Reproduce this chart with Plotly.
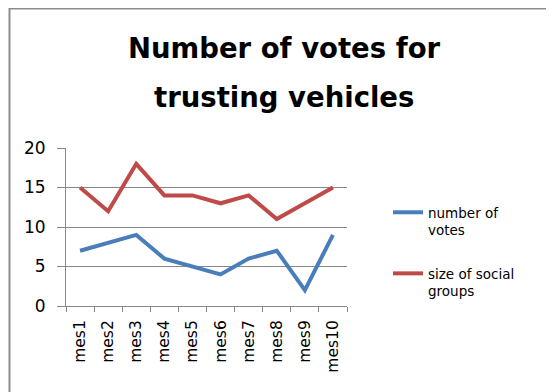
import plotly.graph_objects as go

categories = ["mes1", "mes2", "mes3", "mes4", "mes5", "mes6", "mes7", "mes8", "mes9", "mes10"]
votes = [7, 8, 9, 6, 5, 4, 6, 7, 2, 9]
social = [15, 12, 18, 14, 14, 13, 14, 11, 13, 15]
y_ticks = [0, 5, 10, 15, 20]
title_lines = ["Number of votes for", "trusting vehicles"]

FONT = "DejaVu Sans, sans-serif"

fig = go.Figure()
fig.add_trace(go.Scatter(x=categories, y=votes, mode="lines", name="number of<br>votes",
                         legendgroup="a", line=dict(color="#4a7ebb", width=4)))
fig.add_trace(go.Scatter(x=categories, y=social, mode="lines", name="size of social<br>groups",
                         legendgroup="b", line=dict(color="#be4b48", width=4)))

# page offset (browser body margin)
OFF = 8
W, H = 554, 392
L, R, T, B = 66 - OFF, 347 - OFF, 148 - OFF, 306 - OFF
pw, ph = R - L, B - T


def px(x):
    return (x - OFF - L) / pw


def py(y):
    return (B - (y - OFF)) / ph


annotations = [
    dict(text="<b>%s</b>" % title_lines[0], x=px(284), y=py(48), xref="paper", yref="paper",
         xanchor="center", yanchor="middle", showarrow=False,
         font=dict(size=27.5, family=FONT, color="#000000")),
    dict(text="<b>%s</b>" % title_lines[1], x=px(284), y=py(97), xref="paper", yref="paper",
         xanchor="center", yanchor="middle", showarrow=False,
         font=dict(size=27.5, family=FONT, color="#000000")),
]

fig.update_layout(
    width=W, height=H,
    margin=dict(l=L, r=W - R, t=T, b=H - B, pad=0, autoexpand=False),
    paper_bgcolor="white", plot_bgcolor="white",
    font=dict(family=FONT, color="#000000", size=14),
    annotations=annotations,
    xaxis=dict(type="category", tickangle=-90, tickson="boundaries", ticks="outside",
               ticklen=5, tickcolor="#878787", showgrid=False, showline=True,
               linecolor="#878787", linewidth=1, tickfont=dict(size=15.5, family=FONT),
               ticklabelstandoff=7, range=[-0.5, 9.5]),
    yaxis=dict(range=[0, 20], tickvals=y_ticks, showgrid=True, gridcolor="#878787",
               gridwidth=1, zeroline=False, showline=True, linecolor="#878787",
               ticks="outside", ticklen=8, tickcolor="#878787", ticklabelstandoff=8,
               tickfont=dict(size=17, family=FONT)),
    legend=dict(x=px(388), y=py(197), xanchor="left", yanchor="top",
                font=dict(size=13.5, family=FONT), tracegroupgap=23, valign="top",
                bgcolor="rgba(0,0,0,0)"),
    shapes=[dict(type="rect", xref="paper", yref="paper",
                 x0=px(9.5), x1=px(620), y0=py(460), y1=py(8.5),
                 line=dict(color="#8c8c8c", width=2), fillcolor="rgba(0,0,0,0)", layer="below")],
)

fig.write_html("out.html")
